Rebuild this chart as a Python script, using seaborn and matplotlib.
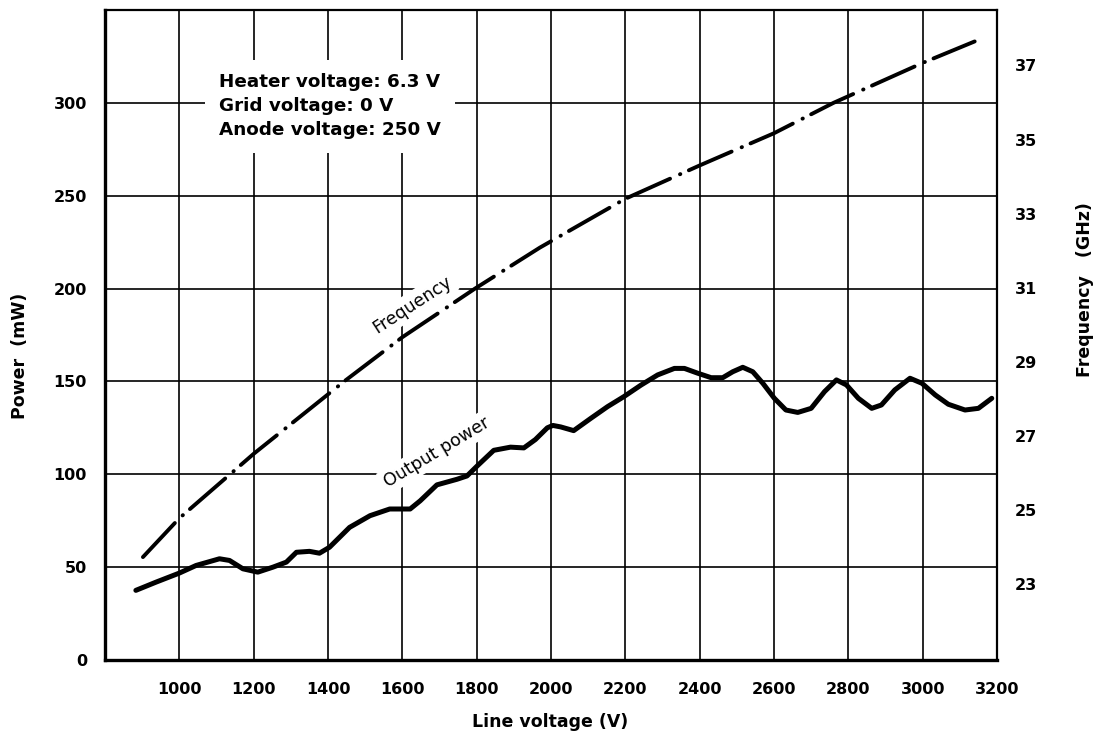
import matplotlib
matplotlib.use("Agg")
import matplotlib.pyplot as plt
import seaborn as sns

# valores
volt_power = [883, 937, 1000, 1045, 1108, 1135, 1171, 1211, 1252, 1288, 1315, 1350,
              1377, 1404, 1458, 1513, 1566, 1621, 1648, 1693, 1747, 1774, 1801, 1846,
              1891, 1927, 1958, 1990, 2005, 2026, 2061, 2107, 2152, 2196, 2242, 2287,
              2332, 2359, 2395, 2431, 2462, 2489, 2516, 2543, 2570, 2601, 2632, 2664,
              2700, 2736, 2768, 2795, 2827, 2863, 2889, 2925, 2966, 2998, 3034, 3069,
              3114, 3150, 3186]
power_mw = [37.5, 41.9, 46.8, 50.9, 54.5, 53.6, 49.1, 47.3, 50, 52.7, 58, 58.5,
            57.5, 60.7, 71.4, 77.7, 81.3, 81.3, 85.7, 94.3, 97.3, 99.1, 104.4, 112.9,
            114.6, 114.2, 118.7, 125, 126.3, 125.5, 123.5, 130.1, 136.4, 141.8, 148, 153.5,
            157, 157, 154.4, 152, 152, 155.2, 157.6, 155.2, 149, 140.9, 134.6, 133.3,
            135.5, 144.5, 150.8, 148.1, 140.9, 135.5, 137.3, 145.4, 151.7, 149, 142.7, 137.7,
            134.6, 135.5, 140.9]

volt_freq = [902, 1000, 1200, 1444, 1600, 1795, 1970, 2200, 2400, 2600, 2760, 3000, 3140]
freq_ghz = [23.72, 24.77, 26.51, 28.47, 29.66, 30.97, 32.08, 33.40, 34.30, 35.17, 35.99, 37.07, 37.65]

x_ticks = list(range(1000, 3201, 200))
power_ticks = list(range(0, 301, 50))
freq_ticks = list(range(23, 38, 2))

sns.set_style("white")
plt.rcParams["font.family"] = ["DejaVu Sans"]
plt.rcParams["text.color"] = "black"
plt.rcParams["axes.labelcolor"] = "black"
plt.rcParams["xtick.color"] = "black"
plt.rcParams["ytick.color"] = "black"

fig = plt.figure(figsize=(11.02, 7.33), dpi=100)
ax = fig.add_axes([0.0953, 0.0996, 0.8094, 0.8868])

sns.lineplot(x=volt_power, y=power_mw, ax=ax, color="black", linewidth=3.6)
ax.lines[-1].set_solid_capstyle("round")
ax.lines[-1].set_solid_joinstyle("round")

ax.set_xlim(800, 3200)
ax.set_ylim(0, 350)
ax.set_xticks(x_ticks)
ax.set_yticks(power_ticks)
ax.grid(True, color="black", linewidth=1.2)
ax.tick_params(axis="x", length=0, pad=16, labelsize=11.5)
ax.tick_params(axis="y", length=0, pad=13, labelsize=11.5)
for lab in ax.get_xticklabels() + ax.get_yticklabels():
    lab.set_fontweight("bold")
for s in ["left", "bottom"]:
    ax.spines[s].set_linewidth(2.4)
for s in ["top", "right"]:
    ax.spines[s].set_linewidth(1.6)
for s in ax.spines.values():
    s.set_color("black")
ax.set_xlabel("")
ax.set_ylabel("")

# eixo da direita (frequencia)
ax2 = ax.twinx()
sns.lineplot(x=volt_freq, y=freq_ghz, ax=ax2, color="black", linewidth=2.8)
linha = ax2.lines[-1]
linha.set_dashes([12, 2.8, 0.1, 2.4])
linha.set_dash_capstyle("round")
ax2.set_ylim(20.94, 38.5)
ax2.set_yticks(freq_ticks)
ax2.tick_params(axis="y", length=0, pad=13, labelsize=11.5)
for lab in ax2.get_yticklabels():
    lab.set_fontweight("bold")
ax2.grid(False)
for s in ax2.spines.values():
    s.set_visible(False)
ax2.set_ylabel("")

# textos
ax.text(0.128, 0.852, "Heater voltage: 6.3 V\nGrid voltage: 0 V\nAnode voltage: 250 V",
        transform=ax.transAxes, ha="left", va="center", fontsize=13.2, fontweight="bold",
        linespacing=1.42, bbox=dict(boxstyle="square,pad=0.75", fc="white", ec="none"))
ax.text(0.344, 0.546, "Frequency", transform=ax.transAxes, ha="center", va="center",
        rotation=33, fontsize=12.5, bbox=dict(boxstyle="square,pad=0.2", fc="white", ec="none"))
ax.text(0.372, 0.32, "Output power", transform=ax.transAxes, ha="center", va="center",
        rotation=31, fontsize=12.5, bbox=dict(boxstyle="square,pad=0.2", fc="white", ec="none"))

fig.text(20 / 1102, 1 - 356 / 733, "Power  (mW)", rotation=90, ha="center", va="center",
         fontsize=12.5, fontweight="bold")
fig.text(1085 / 1102, 1 - 290 / 733, "Frequency   (GHz)", rotation=90, ha="center", va="center",
         fontsize=12.5, fontweight="bold")
fig.text(550 / 1102, 1 - 722 / 733, "Line voltage (V)", ha="center", va="center",
         fontsize=12.5, fontweight="bold")

fig.savefig("out.png", dpi=100)
